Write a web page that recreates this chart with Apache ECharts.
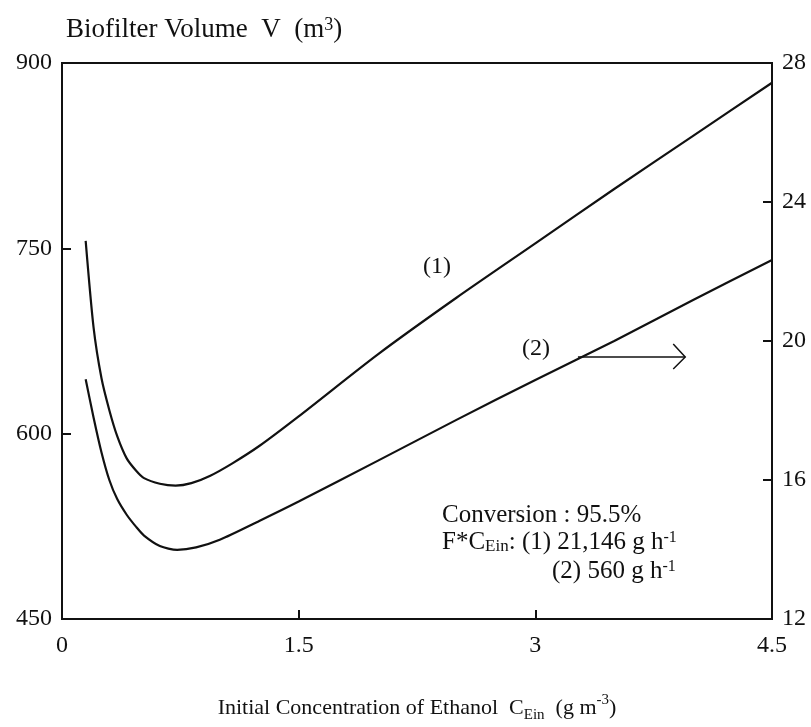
<!DOCTYPE html>
<html>
<head>
<meta charset="utf-8">
<script src="https://cdn.jsdelivr.net/npm/echarts@6/dist/echarts.min.js"></script>
<style>
	html, body {margin: 0;padding: 0;background: #fff}
	#main {width: 811px;height: 727px}
</style>
</head>
<body>
<div id="main"></div>
<script>
	// curve (1): left axis, biofilter volume (m3)
	var curve1X = [0.15, 0.2, 0.25, 0.3, 0.35, 0.41, 0.47, 0.52, 0.62, 0.72, 0.82, 0.94, 1.08, 1.25, 1.5, 2.0, 2.5, 3.0, 3.5, 4.0, 4.5];
	var curve1V = [756, 686, 645, 619, 598, 580, 570, 564, 559.5, 558, 560, 566, 576, 590, 614, 664, 710, 754, 798, 841, 884];
	// curve (2): right axis
	var curve2X = [0.15, 0.2, 0.25, 0.3, 0.35, 0.41, 0.47, 0.52, 0.62, 0.73, 0.85, 1.0, 1.25, 1.5, 2.0, 2.5, 3.0, 3.5, 4.0, 4.5];
	var curve2V = [18.9, 17.8, 16.8, 16.0, 15.45, 15.0, 14.65, 14.4, 14.1, 13.99, 14.06, 14.28, 14.82, 15.38, 16.55, 17.73, 18.88, 20.0, 21.18, 22.33];
	// arrow for curve (2) pointing to right axis
	var arrowX = [3.27, 3.95];
	var arrowY = 19.54;

	var serif = '"Liberation Serif", "DejaVu Serif", serif';
	var black = '#111';

	function zip(xs, ys) {
		return xs.map(function (x, i) { return [x, ys[i]]; });
	}

	var myChart = echarts.init(document.getElementById('main'));
	var option = {
		animation: false,
		grid: {
			left: 62, right: 39, top: 63, bottom: 108,
			outerBoundsMode: 'none', containLabel: false,
			show: true, borderColor: black, borderWidth: 2
		},
		xAxis: {
			type: 'value', min: 0, max: 4.5, interval: 1.5,
			axisLine: {show: true, lineStyle: {color: black, width: 2}},
			axisTick: {show: true, inside: true, length: 9, lineStyle: {color: black, width: 2}},
			splitLine: {show: false},
			axisLabel: {color: black, fontFamily: serif, fontSize: 24, margin: 15},
			name: 'Initial Concentration of Ethanol  {t|C}{sub|Ein}  (g m{sup|-3})',
			nameLocation: 'middle',
			nameGap: 74,
			nameTextStyle: {
				color: black, fontFamily: serif, fontSize: 22,
				rich: {
					t: {fontFamily: serif, fontSize: 22, color: black, lineHeight: 30},
					sub: {fontFamily: serif, fontSize: 15, color: black, verticalAlign: 'bottom', lineHeight: 20},
					sup: {fontFamily: serif, fontSize: 15, color: black, verticalAlign: 'top', lineHeight: 20}
				}
			}
		},
		yAxis: [{
			type: 'value', min: 450, max: 900, interval: 150, position: 'left',
			axisLine: {show: true, lineStyle: {color: black, width: 2}},
			axisTick: {show: true, inside: true, length: 9, lineStyle: {color: black, width: 2}},
			splitLine: {show: false},
			axisLabel: {color: black, fontFamily: serif, fontSize: 24, margin: 10},
			name: 'Biofilter Volume  V  (m{sup|3})',
			nameLocation: 'end',
			nameGap: 20,
			nameTextStyle: {
				color: black, fontFamily: serif, fontSize: 27, align: 'left', padding: [0, 0, 0, 4],
				rich: {
					sup: {fontFamily: serif, fontSize: 18, color: black, verticalAlign: 'top', lineHeight: 20}
				}
			}
		}, {
			type: 'value', min: 12, max: 28, interval: 4, position: 'right',
			axisLine: {show: true, lineStyle: {color: black, width: 2}},
			axisTick: {show: true, inside: true, length: 9, lineStyle: {color: black, width: 2}},
			splitLine: {show: false},
			axisLabel: {color: black, fontFamily: serif, fontSize: 24, margin: 10}
		}],
		series: [{
			name: '(1)', type: 'line', yAxisIndex: 0, smooth: 0.25, symbol: 'none',
			lineStyle: {color: black, width: 2.2},
			data: zip(curve1X, curve1V)
		}, {
			name: '(2)', type: 'line', yAxisIndex: 1, smooth: 0.25, symbol: 'none',
			lineStyle: {color: black, width: 2.2},
			data: zip(curve2X, curve2V)
		}]
	};
	myChart.setOption(option);

	// annotations
	var a0 = myChart.convertToPixel({xAxisIndex: 0, yAxisIndex: 1}, [arrowX[0], arrowY]);
	var a1 = myChart.convertToPixel({xAxisIndex: 0, yAxisIndex: 1}, [arrowX[1], arrowY]);
	var rich = {
		sub: {fontFamily: serif, fontSize: 17, fill: black, verticalAlign: 'bottom', lineHeight: 24},
		sup: {fontFamily: serif, fontSize: 16, fill: black, verticalAlign: 'top', lineHeight: 24}
	};
	myChart.setOption({
		graphic: [
			{type: 'text', left: 423, top: 255, style: {text: '(1)', font: '24px ' + serif, fill: black}},
			{type: 'text', left: 522, top: 337, style: {text: '(2)', font: '24px ' + serif, fill: black}},
			{type: 'polyline', shape: {points: [a0, a1]}, style: {stroke: black, lineWidth: 1.5, fill: null}},
			{type: 'polyline', shape: {points: [[a1[0] - 12, a1[1] - 13], a1, [a1[0] - 12, a1[1] + 12]]}, style: {stroke: black, lineWidth: 1.5, fill: null}},
			{type: 'text', left: 442, top: 503, style: {text: 'Conversion : 95.5%', font: '25px ' + serif, fill: black}},
			{type: 'text', left: 442, top: 530, style: {text: 'F*C{sub|Ein}: (1) 21,146 g h{sup|-1}', font: '25px ' + serif, fill: black, rich: rich}},
			{type: 'text', left: 552, top: 559, style: {text: '(2) 560 g h{sup|-1}', font: '25px ' + serif, fill: black, rich: rich}}
		]
	});
</script>
</body>
</html>
